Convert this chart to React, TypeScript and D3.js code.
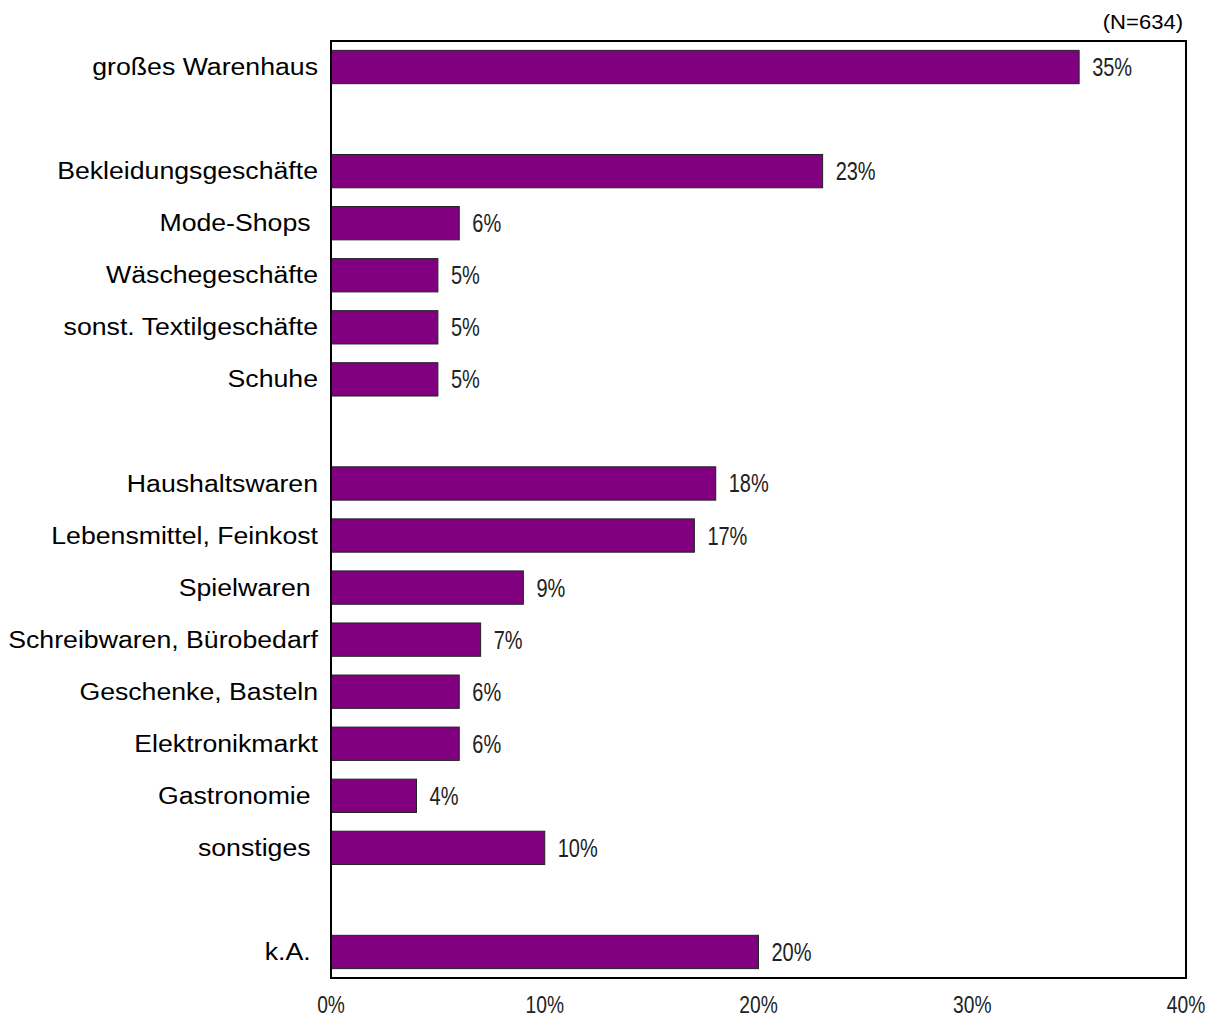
import React from "react";
import * as d3 from "d3";

const categories = [
  "großes Warenhaus", "", "Bekleidungsgeschäfte", "Mode-Shops ", "Wäschegeschäfte",
  "sonst. Textilgeschäfte", "Schuhe", "", "Haushaltswaren", "Lebensmittel, Feinkost",
  "Spielwaren ", "Schreibwaren, Bürobedarf", "Geschenke, Basteln", "Elektronikmarkt",
  "Gastronomie ", "sonstiges ", "", "k.A. ",
];
const values: (number | null)[] = [35, null, 23, 6, 5, 5, 5, null, 18, 17, 9, 7, 6, 6, 4, 10, null, 20];
const ticks = [0, 10, 20, 30, 40];
const note = "(N=634)";

const W = 1218, H = 1019;
const left = 331, right = 1186, top = 41, bottom = 978;

export default function App() {
  const x = d3.scaleLinear().domain([0, 40]).range([left, right]);
  const y = d3.scaleBand<number>().domain(categories.map((_, i) => i)).range([top, bottom]).paddingInner(0.36).paddingOuter(0.18);
  const catFont = "'Liberation Sans', Arial, sans-serif";
  const numFont = "'Liberation Sans', Arial, sans-serif";
  const sx = 1.16;
  const nx = 0.8;
  return (
    <svg width={W} height={H} style={{ position: "absolute", left: 0, top: 0, background: "#fff" }}>
      <rect x={0} y={0} width={W} height={H} fill="#fff" />
      <g transform={`translate(1183,29) scale(1.05,1)`}>
        <text x={0} y={0} textAnchor="end" fontFamily={catFont} fontSize={21} fill="#000">{note}</text>
      </g>
      {categories.map((c, i) => {
        const v = values[i];
        if (v == null) return null;
        const yc = (y(i) as number) + y.bandwidth() / 2;
        return (
          <g key={i}>
            <rect x={x(0)} y={y(i)} width={x(v) - x(0)} height={y.bandwidth()} fill="#800080" stroke="#222" strokeWidth={1} />
            <g transform={`translate(318,${yc}) scale(${sx},1)`}>
              <text x={0} y={0} dy="0.35em" textAnchor="end" fontFamily={catFont} fontSize={23} fill="#000" style={{ whiteSpace: "pre" }}>{c}</text>
            </g>
            <g transform={`translate(${x(v) + 13},${yc}) scale(${nx},1)`}>
              <text x={0} y={0} dy="0.36em" fontFamily={numFont} fontSize={25} fill="#222">{v}%</text>
            </g>
          </g>
        );
      })}
      <rect x={left} y={top} width={right - left} height={bottom - top} fill="none" stroke="#000" strokeWidth={2} />
      {ticks.map((t) => (
        <g key={t} transform={`translate(${x(t)},1013) scale(${nx},1)`}>
          <text x={0} y={0} textAnchor="middle" fontFamily={numFont} fontSize={24} fill="#222">{t}%</text>
        </g>
      ))}
    </svg>
  );
}
